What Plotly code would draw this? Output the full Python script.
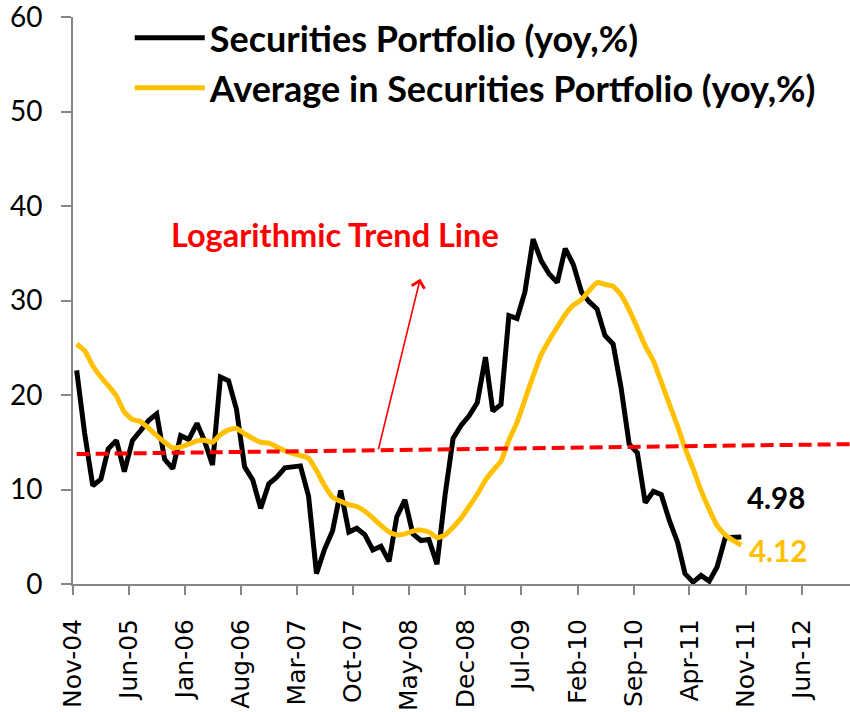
import pandas as pd
import plotly.graph_objects as go

# Monthly data, Nov-04 .. Oct-11
start_month = "2004-11-01"
securities_yoy = [
    22.6, 16.0, 10.4, 11.1, 14.3, 15.2, 11.9, 15.2, 16.2, 17.3,
    18.0, 13.2, 12.2, 15.7, 15.3, 17.0, 15.2, 12.6, 21.9, 21.5,
    18.5, 12.4, 11.0, 8.0, 10.6, 11.3, 12.3, 12.4, 12.5, 9.3,
    1.1, 3.7, 5.6, 9.9, 5.5, 5.9, 5.2, 3.6, 4.0, 2.4,
    7.1, 8.9, 5.3, 4.6, 4.7, 2.1, 9.5, 15.4, 16.8, 17.8,
    19.2, 24.0, 18.3, 19.0, 28.4, 28.1, 30.9, 36.5, 34.2, 32.8,
    31.9, 35.5, 33.8, 30.9, 29.9, 29.1, 26.3, 25.4, 20.8, 14.8,
    13.9, 8.6, 9.8, 9.45, 6.7, 4.4, 1.1, 0.2, 0.9, 0.3,
    1.8, 4.9, 5.0, 4.98,
]
average_yoy = [
    25.4, 24.7, 23.1, 21.9, 21.0, 19.9, 18.2, 17.4, 17.2, 16.5,
    15.7, 15.0, 14.4, 14.5, 14.8, 15.15, 15.2, 15.0, 15.8, 16.3,
    16.45, 15.9, 15.4, 15.0, 14.9, 14.5, 14.1, 13.8, 13.6, 13.3,
    12.0, 10.4, 9.2, 8.75, 8.4, 8.2, 7.7, 7.0, 6.2, 5.5,
    5.2, 5.3, 5.6, 5.7, 5.5, 4.9, 5.2, 6.0, 7.0, 8.2,
    9.5, 11.0, 12.0, 13.0, 15.2, 17.1, 19.5, 22.0, 24.3, 25.8,
    27.2, 28.5, 29.5, 30.1, 31.0, 31.9, 31.7, 31.5, 30.6, 29.0,
    27.1, 25.2, 23.6, 21.4, 19.0, 16.7, 14.4, 12.2, 9.9, 7.9,
    6.2, 5.2, 4.6, 4.12,
]
trend_dates = ["2004-11-15", "2012-12-01"]
trend_values = [13.75, 14.8]

months = pd.date_range(start_month, periods=len(securities_yoy), freq="MS") + pd.Timedelta(days=14)

BLACK = "#000000"
GOLD = "#FFC000"
RED = "#FF0000"
AXIS = "#868686"
FONT = "Lato"

fig = go.Figure()
fig.add_trace(go.Scatter(
    x=months, y=securities_yoy, mode="lines", name="Securities Portfolio (yoy,%)",
    line=dict(color=BLACK, width=5), legendgroup="a",
))
fig.add_trace(go.Scatter(
    x=months, y=average_yoy, mode="lines", name="Average in Securities Portfolio (yoy,%)",
    line=dict(color=GOLD, width=5, shape="spline", smoothing=0.5), legendgroup="b",
))
fig.add_trace(go.Scatter(
    x=pd.to_datetime(trend_dates), y=trend_values, mode="lines", showlegend=False,
    line=dict(color=RED, width=4, dash="13px,6px"), hoverinfo="skip",
))

# Trend line label + arrow
fig.add_annotation(
    x=pd.Timestamp("2007-07-24"), y=37.0, text="<b>Logarithmic Trend Line</b>",
    showarrow=False, font=dict(family=FONT, size=32.5, color=RED),
    xanchor="center", yanchor="middle",
)
fig.add_annotation(
    x=pd.Timestamp("2008-06-12"), y=32.3, ax=pd.Timestamp("2008-01-04"), ay=14.1,
    axref="x", ayref="y", text="", showarrow=True, arrowhead=4, arrowsize=1.6,
    arrowwidth=1.6, arrowcolor=RED,
)

# End value labels
fig.add_annotation(
    x=months[-1], y=securities_yoy[-1], text=f"<b>{securities_yoy[-1]:.2f}</b>",
    showarrow=False, xanchor="left", yanchor="middle", xshift=4, yshift=39,
    font=dict(family=FONT, size=29.5, color=BLACK),
)
fig.add_annotation(
    x=months[-1], y=average_yoy[-1], text=f"<b>{average_yoy[-1]:.2f}</b>",
    showarrow=False, xanchor="left", yanchor="middle", xshift=6, yshift=-5,
    font=dict(family=FONT, size=29.5, color=GOLD),
)

fig.update_layout(
    width=850, height=712,
    margin=dict(l=73, r=0, t=17, b=128),
    paper_bgcolor="white", plot_bgcolor="white",
    showlegend=True,
    legend=dict(
        x=0.073, y=1.016, xanchor="left", yanchor="top",
        font=dict(family=FONT, size=36, color=BLACK, weight="bold"),
        bgcolor="rgba(0,0,0,0)", tracegroupgap=0, itemwidth=70,
    ),
)
fig.update_xaxes(
    type="date", range=["2004-11-01", "2012-12-01"], automargin=False,
    tick0="2004-11-01", dtick="M7", tickformat="%b-%y", tickangle=-90,
    ticks="outside", ticklen=9, tickcolor=AXIS, tickwidth=1.5,
    showline=True, linecolor=AXIS, linewidth=2, showgrid=False, zeroline=False,
    tickfont=dict(family="DejaVu Sans", size=25, color=BLACK),
    ticklabelstandoff=14, ticklabeloverflow="allow",
)
fig.update_yaxes(
    range=[0, 60], dtick=10, ticks="outside", ticklen=10, tickcolor=AXIS, tickwidth=1.5,
    showline=True, linecolor=AXIS, linewidth=2, showgrid=False, zeroline=False,
    automargin=False, ticklabeloverflow="allow",
    tickfont=dict(family=FONT, size=28, color=BLACK), ticklabelstandoff=13,
)

fig.write_html(
    "out.html",
    config=dict(displayModeBar=False),
    post_script="document.body.style.margin='0';document.body.style.overflow='hidden';",
)
